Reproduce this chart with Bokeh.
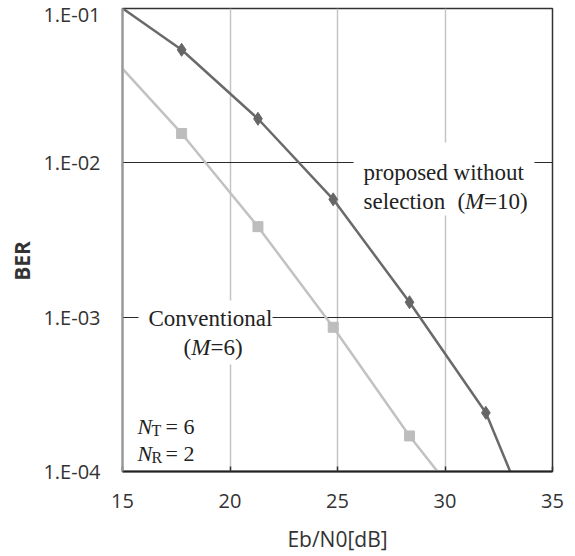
import math
from bokeh.plotting import figure
from bokeh.models import (Range1d, FixedTicker, CustomJSTickFormatter, Label,
                          BoxAnnotation, ColumnDataSource)
from bokeh.embed import file_html
from bokeh.resources import INLINE

# ---- data ----
snr_prop = [14.2, 17.75, 21.3, 24.8, 28.35, 31.9, 35.4]
ber_prop = [1.2e-1, 5.4e-2, 1.93e-2, 5.8e-3, 1.25e-3, 2.4e-4, 1.6e-5]
snr_conv = [14.2, 17.75, 21.3, 24.8, 28.35, 31.9]
ber_conv = [5.4e-2, 1.55e-2, 3.86e-3, 8.6e-4, 1.7e-4, 4.0e-5]
x_ticks = [15, 20, 25, 30, 35]
y_ticks = [1e-4, 1e-3, 1e-2, 1e-1]
y_tick_labels = ["1.E-04", "1.E-03", "1.E-02", "1.E-01"]

X0, X1, Y0, Y1 = 15, 35, 1e-4, 1e-1
FL, FR, FT, FB = 122, 552, 8, 471


def dx(px):
    return X0 + (px - FL) / (FR - FL) * (X1 - X0)


def dy(py):
    return 10 ** (math.log10(Y1) - (py - FT) / (FB - FT) * (math.log10(Y1) - math.log10(Y0)))


p = figure(width=575, height=556, output_backend="svg", toolbar_location=None,
           y_axis_type="log", x_range=Range1d(X0, X1), y_range=Range1d(Y0, Y1),
           min_border_left=FL, min_border_right=575 - FR, min_border_top=FT,
           min_border_bottom=556 - FB)
p.background_fill_color = "white"
p.border_fill_color = "white"
p.outline_line_color = "#333333"
p.outline_line_width = 1.5

# grids
p.xgrid.ticker = FixedTicker(ticks=x_ticks)
p.xgrid.grid_line_color = "#c4c4c4"
p.xgrid.grid_line_width = 1.5
p.ygrid.ticker = FixedTicker(ticks=y_ticks)
p.ygrid.grid_line_color = "#2a2a2a"
p.ygrid.grid_line_width = 1.2

# axes
p.xaxis.ticker = FixedTicker(ticks=x_ticks)
p.xaxis.major_tick_in = 5
p.xaxis.major_tick_out = 0
p.xaxis.minor_tick_line_color = None
p.xaxis.major_tick_line_color = "#333333"
p.xaxis.major_tick_line_width = 1.5
p.xaxis.axis_line_color = "#222222"
p.xaxis.axis_line_width = 2
p.xaxis.major_label_standoff = 22
p.xaxis.major_label_text_font = "Open Sans"
p.xaxis.major_label_text_font_size = "20px"
p.xaxis.major_label_text_color = "#333333"
p.xaxis.axis_label = "Eb/N0[dB]"
p.xaxis.axis_label_text_font = "Open Sans"
p.xaxis.axis_label_text_font_size = "21px"
p.xaxis.axis_label_text_font_style = "normal"
p.xaxis.axis_label_text_color = "#333333"
p.xaxis.axis_label_standoff = 14

p.yaxis.ticker = FixedTicker(ticks=y_ticks)
p.yaxis.formatter = CustomJSTickFormatter(
    args=dict(vals=y_ticks, labs=y_tick_labels),
    code="""
let best = 0, d = 1e9;
for (let i = 0; i < vals.length; i++) {
  const e = Math.abs(Math.log10(vals[i]) - Math.log10(tick));
  if (e < d) { d = e; best = i; }
}
return labs[best];
""")
p.yaxis.major_tick_in = 0
p.yaxis.major_tick_out = 0
p.yaxis.minor_tick_line_color = None
p.yaxis.axis_line_color = "#999999"
p.yaxis.axis_line_width = 2
p.yaxis.major_label_standoff = 22
p.yaxis.major_label_text_font = "Open Sans"
p.yaxis.major_label_text_font_size = "20px"
p.yaxis.major_label_text_color = "#333333"
# trailing em spaces push the rotated title a little below the frame centre
p.yaxis.axis_label = "BER\u2003\u2003"
p.yaxis.axis_label_text_font = "Open Sans"
p.yaxis.axis_label_text_font_size = "21px"
p.yaxis.axis_label_text_font_style = "bold"
p.yaxis.axis_label_text_color = "#333333"
p.yaxis.axis_label_standoff = 4

# series
src_p = ColumnDataSource(dict(x=snr_prop, y=ber_prop))
src_c = ColumnDataSource(dict(x=snr_conv, y=ber_conv))
p.line("x", "y", source=src_c, line_color="#c2c2c2", line_width=2.5)
p.scatter("x", "y", source=src_c, marker="square", size=10,
          fill_color="#bdbdbd", line_color="#bdbdbd")
p.line("x", "y", source=src_p, line_color="#6a6a6a", line_width=2.5)
p.scatter("x", "y", source=src_p, marker="diamond", size=13,
          fill_color="#666666", line_color="#666666")

# white boxes behind annotation texts
for (l, r, t, b) in [(353, 534, 142, 215), (138, 272, 300, 364)]:
    p.add_layout(BoxAnnotation(left=dx(l), right=dx(r), top=dy(t), bottom=dy(b),
                               fill_color="white", fill_alpha=1.0,
                               line_color=None))

SERIF = "Liberation Serif"


def txt(s, px, py, size=23, style="normal", color="#222222"):
    p.add_layout(Label(x=dx(px), y=dy(py), text=s, text_font=SERIF,
                       text_font_size=f"{size}px", text_font_style=style,
                       text_color=color, text_baseline="alphabetic",
                       text_align="left"))


# proposed annotation
txt("proposed without", 363, 172)
txt("selection", 363, 201)
txt("(", 457, 201)
txt("M", 464.5, 201, style="italic")
txt("=10)", 483.5, 201)

# conventional annotation
txt("Conventional", 148, 318)
txt("(", 183, 347)
txt("M", 190.7, 347, style="italic")
txt("=6)", 210, 347)

# NT / NR
txt("N", 137, 426, size=22, style="italic")
txt("T", 151, 430, size=16)
txt("= 6", 165, 426, size=22)
txt("N", 137, 453, size=22, style="italic")
txt("R", 151, 457, size=16)
txt("= 2", 165, 453, size=22)

open("out.html", "w").write(file_html(p, INLINE))
